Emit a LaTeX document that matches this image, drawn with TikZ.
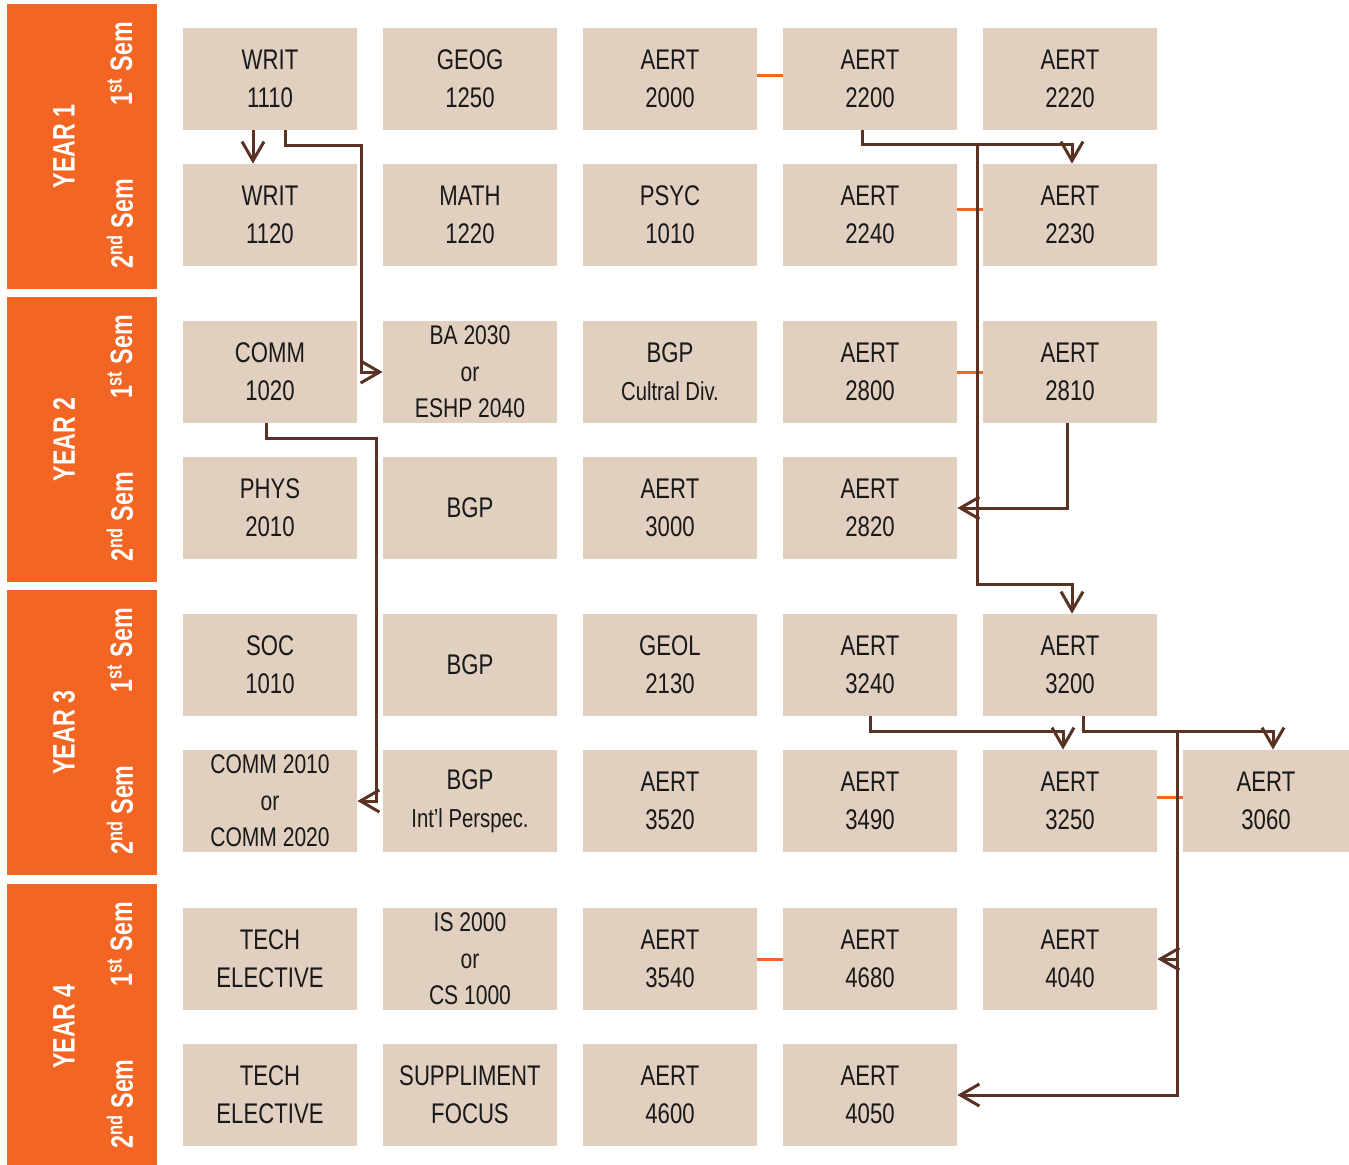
\documentclass[tikz,border=0pt]{standalone}
\usepackage{fontspec}
\setmainfont{Liberation Sans}[FakeStretch=0.78]
\newfontfamily\barfont{Liberation Sans}[FakeStretch=0.75]
\definecolor{yearorange}{RGB}{242,101,34}
\definecolor{coursetan}{RGB}{225,207,192}
\definecolor{linkbrown}{RGB}{89,50,36}
\usetikzlibrary{arrows.meta,positioning,calc}
\tikzset{
  course/.style={fill=coursetan, inner sep=0pt, minimum width=87pt, minimum height=51pt,
              align=center, text=black!90, font=\fontsize{14.2}{19}\selectfont},
  choice/.style={course, font=\fontsize{13.5}{18.25}\selectfont},
  yearbar/.style={fill=yearorange, inner sep=0pt, minimum width=75pt, minimum height=142.5pt},
  yearlbl/.style={rotate=90, text=white, font=\barfont\bfseries\fontsize{15.5}{18}\selectfont},
  flow/.style={-{Straight Barb[length=9.5pt,width=11pt]}, linkbrown, line width=1.5pt},
  coreq/.style={yearorange, line width=1.5pt},
}
\newcommand{\subline}{\fontsize{13}{17.5}\selectfont}

\begin{document}
\begin{tikzpicture}[x=0.5pt,y=-0.5pt]
    \useasboundingbox (0,0) rectangle (1349,1164);
    % side bars
    \node[yearbar] (yr1) at (82,146.5) {};
    \node[yearbar] (yr2) at (82,439.5) {};
    \node[yearbar] (yr3) at (82,732.5) {};
    \node[yearbar] (yr4) at (82,1026.5) {};
    \node[yearlbl] (yr1t) at (64,146.5) {YEAR 1};
    \node[yearlbl] (yr2t) at (64,439.5) {YEAR 2};
    \node[yearlbl] (yr3t) at (64,732.5) {YEAR 3};
    \node[yearlbl] (yr4t) at (64,1026.5) {YEAR 4};
    \node[yearlbl] (s1a) at (120,64)   {1\textsuperscript{st} Sem};
    \node[yearlbl] (s1b) at (120,224)  {2\textsuperscript{nd} Sem};
    \node[yearlbl] (s2a) at (120,357)  {1\textsuperscript{st} Sem};
    \node[yearlbl] (s2b) at (120,517)  {2\textsuperscript{nd} Sem};
    \node[yearlbl] (s3a) at (120,650)  {1\textsuperscript{st} Sem};
    \node[yearlbl] (s3b) at (120,810)  {2\textsuperscript{nd} Sem};
    \node[yearlbl] (s4a) at (120,944)  {1\textsuperscript{st} Sem};
    \node[yearlbl] (s4b) at (120,1104) {2\textsuperscript{nd} Sem};
    % year 1
    \node[course] (writ1110) at (270,79)  {WRIT\\1110};
    \node[course] (geog1250) at (470,79)  {GEOG\\1250};
    \node[course] (aert2000) at (670,79)  {AERT\\2000};
    \node[course] (aert2200) at (870,79)  {AERT\\2200};
    \node[course] (aert2220) at (1070,79) {AERT\\2220};
    \node[course] (writ1120) at (270,215) {WRIT\\1120};
    \node[course] (math1220) at (470,215) {MATH\\1220};
    \node[course] (psyc1010) at (670,215) {PSYC\\1010};
    \node[course] (aert2240) at (870,215) {AERT\\2240};
    \node[course] (aert2230) at (1070,215){AERT\\2230};
    % year 2
    \node[course] (comm1020) at (270,372) {COMM\\1020};
    \node[choice] (ba2030)   at (470,372) {BA 2030\\or\\ESHP 2040};
    \node[course] (bgpcult)  at (670,372) {BGP\\\subline Cultral Div.};
    \node[course] (aert2800) at (870,372) {AERT\\2800};
    \node[course] (aert2810) at (1070,372){AERT\\2810};
    \node[course] (phys2010) at (270,508) {PHYS\\2010};
    \node[course] (bgp2)     at (470,508) {BGP};
    \node[course] (aert3000) at (670,508) {AERT\\3000};
    \node[course] (aert2820) at (870,508) {AERT\\2820};
    % year 3
    \node[course] (soc1010)  at (270,665) {SOC\\1010};
    \node[course] (bgp3)     at (470,665) {BGP};
    \node[course] (geol2130) at (670,665) {GEOL\\2130};
    \node[course] (aert3240) at (870,665) {AERT\\3240};
    \node[course] (aert3200) at (1070,665){AERT\\3200};
    \node[choice] (comm2010) at (270,801) {COMM 2010\\or\\COMM 2020};
    \node[course] (bgpintl)  at (470,801) {BGP\\\subline Int'l Perspec.};
    \node[course] (aert3520) at (670,801) {AERT\\3520};
    \node[course] (aert3490) at (870,801) {AERT\\3490};
    \node[course] (aert3250) at (1070,801){AERT\\3250};
    \node[course, minimum width=83pt] (aert3060) at (1266,801){AERT\\3060};
    % year 4
    \node[course] (tech1)    at (270,959) {TECH\\ELECTIVE};
    \node[choice] (is2000)   at (470,959) {IS 2000\\or\\CS 1000};
    \node[course] (aert3540) at (670,959) {AERT\\3540};
    \node[course] (aert4680) at (870,959) {AERT\\4680};
    \node[course] (aert4040) at (1070,959){AERT\\4040};
    \node[course] (tech2)    at (270,1095){TECH\\ELECTIVE};
    \node[course] (suppfoc)  at (470,1095){SUPPLIMENT\\FOCUS};
    \node[course] (aert4600) at (670,1095){AERT\\4600};
    \node[course] (aert4050) at (870,1095){AERT\\4050};
    % co-requisites
    \draw[coreq] ($(aert2000.east)+(0,-4)$) -- ($(aert2200.west)+(0,-4)$);
    \draw[coreq] ($(aert2240.east)+(0,-6)$) -- ($(aert2230.west)+(0,-6)$);
    \draw[coreq] (aert2800.east) -- (aert2810.west);
    \draw[coreq] ($(aert3250.east)+(0,-4)$) -- ($(aert3060.west)+(0,-4)$);
    \draw[coreq] (aert3540.east) -- (aert4680.west);
    % prerequisites
    \coordinate (split1) at (977,144);
    \coordinate (split2) at (1177,731);
    \draw[flow] ($(writ1110.south)+(-17,0)$) -- ($(writ1120.north)+(-17,0)$);
    \draw[flow] ($(writ1110.south)+(15,0)$) -- ++(0,15) -| ($(ba2030.west)+(-21,0)$) -- (ba2030.west);
    \draw[flow] ($(aert2200.south)+(-8,0)$) -- ++(0,14) -| ($(aert2230.north)+(2,0)$);
    \draw[flow] (split1) -- ++(0,440) -| ($(aert3200.north)+(2,0)$);
    \draw[flow] ($(aert2810.south)+(-3,0)$) |- (aert2820.east);
    \draw[flow] ($(comm1020.south)+(-4,0)$) -- ++(0,15) -| ($(comm2010.east)+(19,0)$) -- (comm2010.east);
    \draw[flow] (aert3240.south) -- ++(0,15) -| ($(aert3250.north)+(-7,0)$);
    \draw[flow] ($(aert3200.south)+(13,0)$) -- ++(0,15) -| ($(aert3060.north)+(7,0)$);
    \draw[flow] (split2) |- (aert4050.east);
    \draw[flow] (split2 |- aert4040.east) -- (aert4040.east);
\end{tikzpicture}
\end{document}
